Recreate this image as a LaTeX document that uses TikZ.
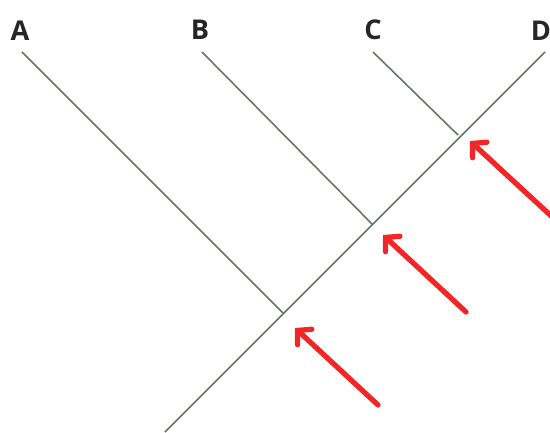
\documentclass[tikz,border=0pt]{standalone}
\usepackage{fontspec}
\setsansfont{Open Sans}
\usetikzlibrary{arrows.meta}
\definecolor{treegray}{RGB}{105,115,100}
\definecolor{arrowred}{RGB}{242,38,38}
\tikzset{
  branch/.style={draw=treegray, line width=0.9pt},
  marker/.style={draw=arrowred, line width=3pt, line cap=round,
    -{Straight Barb[length=5.5pt, width=12pt, line cap=round]}},
  taxon/.style={font=\sffamily\bfseries\fontsize{15.5}{15.5}\selectfont, text=black!85}
}
\begin{document}
\begin{tikzpicture}[x=0.02cm, y=-0.02cm]
    \useasboundingbox (0,0) rectangle (550,432);
    \clip (0,0) rectangle (550,432);
    % Tên các nhóm
    \node[taxon] (A) at (20,31) {A};
    \node[taxon] (B) at (200,30) {B};
    \node[taxon] (C) at (373,30) {C};
    \node[taxon] (D) at (541,31) {D};
    % Các điểm nút
    \coordinate (nA) at (283,313);
    \coordinate (nB) at (372,224);
    \coordinate (nC) at (458,135);
    \coordinate (root) at (165,432);
    \coordinate (tA) at (22,52);
    \coordinate (tB) at (202,52);
    \coordinate (tC) at (373,52);
    \coordinate (tD) at (545,52);
    % Các nhánh
    \draw[branch] (tA) -- (nA);
    \draw[branch] (tB) -- (nB);
    \draw[branch] (tC) -- (nC);
    \draw[branch] (root) -- (tD);
    % Mũi tên đỏ
    \coordinate (r1) at (378,405);
    \coordinate (r2) at (466,312);
    \coordinate (r3) at (575,238);
    \coordinate (p1) at (295,328);
    \coordinate (p2) at (383,235);
    \coordinate (p3) at (470,141);
    \draw[marker] (r1) -- (p1);
    \draw[marker] (r2) -- (p2);
    \draw[marker] (r3) -- (p3);
\end{tikzpicture}
\end{document}
